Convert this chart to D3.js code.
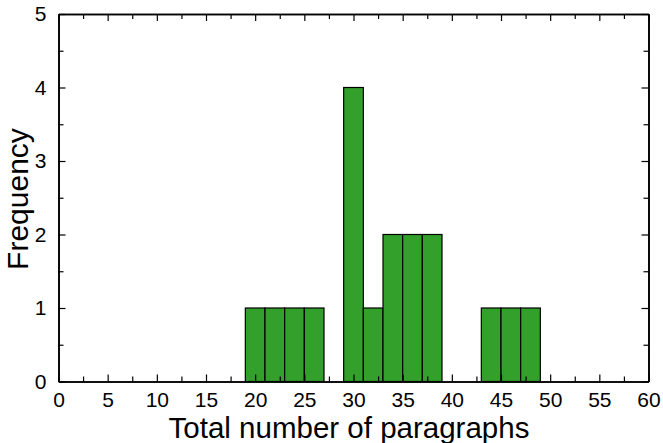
<!DOCTYPE html>
<html><head><meta charset="utf-8">
<script src="https://cdn.jsdelivr.net/npm/d3@7"></script>
<style>body{margin:0;background:#fff}svg{display:block}text{font-family:"Liberation Sans",Arial,sans-serif;fill:#000}</style>
</head><body>
<svg id="c" width="663" height="443"></svg>
<script>
const binStart = [19, 21, 23, 25, 29, 31, 33, 35, 37, 43, 45, 47];
const binEnd   = [21, 23, 25, 27, 31, 33, 35, 37, 39, 45, 47, 49];
const counts   = [1, 1, 1, 1, 4, 1, 2, 2, 2, 1, 1, 1];
const xTicks = [0,5,10,15,20,25,30,35,40,45,50,55,60];
const yTicks = [0,1,2,3,4,5];
const xLabel = "Total number of paragraphs";
const yLabel = "Frequency";

const svg = d3.select("#c");
const L = 58.5, R = 648.5, T = 14, B = 381.5;
const x = d3.scaleLinear().domain([0,60]).range([L,R]);
const y = d3.scaleLinear().domain([0,5]).range([B,T]);

svg.append("g").selectAll("rect").data(counts).join("rect")
  .attr("x",(d,i)=>x(binStart[i]))
  .attr("width",(d,i)=>x(binEnd[i])-x(binStart[i]))
  .attr("y",d=>y(d)).attr("height",d=>B-y(d))
  .attr("fill","#33a02c").attr("stroke","#000").attr("stroke-width",1.2);

const xMinor = d3.range(0,60.01,2.5).filter(v=>v%5!==0);
const yMinor = d3.range(0,5.01,0.5).filter(v=>v%1!==0);
const MJ = 7, MN = 5;
const fs = 21;

svg.append("g").attr("transform",`translate(0,${B})`)
  .call(d3.axisBottom(x).tickValues(xTicks).tickSizeInner(-MJ).tickSizeOuter(0).tickPadding(11));
svg.append("g").attr("transform",`translate(0,${B})`)
  .call(d3.axisBottom(x).tickValues(xMinor).tickSizeInner(-MN).tickSizeOuter(0).tickFormat(""));
svg.append("g").attr("transform",`translate(0,${T})`)
  .call(d3.axisTop(x).tickValues(xTicks).tickSizeInner(-MJ).tickSizeOuter(0).tickFormat(""));
svg.append("g").attr("transform",`translate(0,${T})`)
  .call(d3.axisTop(x).tickValues(xMinor).tickSizeInner(-MN).tickSizeOuter(0).tickFormat(""));
svg.append("g").attr("transform",`translate(${L},0)`)
  .call(d3.axisLeft(y).tickValues(yTicks).tickSizeInner(-MJ).tickSizeOuter(0).tickPadding(12).tickFormat(d3.format("d")));
svg.append("g").attr("transform",`translate(${L},0)`)
  .call(d3.axisLeft(y).tickValues(yMinor).tickSizeInner(-MN).tickSizeOuter(0).tickFormat(""));
svg.append("g").attr("transform",`translate(${R},0)`)
  .call(d3.axisRight(y).tickValues(yTicks).tickSizeInner(-MJ).tickSizeOuter(0).tickFormat(""));
svg.append("g").attr("transform",`translate(${R},0)`)
  .call(d3.axisRight(y).tickValues(yMinor).tickSizeInner(-MN).tickSizeOuter(0).tickFormat(""));

svg.selectAll(".domain").attr("stroke","#000").attr("stroke-width",1.6);
svg.selectAll(".tick line").attr("stroke","#000").attr("stroke-width",1.2);
svg.selectAll(".tick text").attr("font-size",fs).attr("font-family",'"Liberation Sans",Arial,sans-serif').attr("fill","#000");

svg.append("text").attr("x",349).attr("y",438).attr("text-anchor","middle")
  .attr("font-size",29.5).text(xLabel);
svg.append("text").attr("transform",`translate(28,199) rotate(-90)`).attr("text-anchor","middle")
  .attr("font-size",30).text(yLabel);
</script>
</body></html>
